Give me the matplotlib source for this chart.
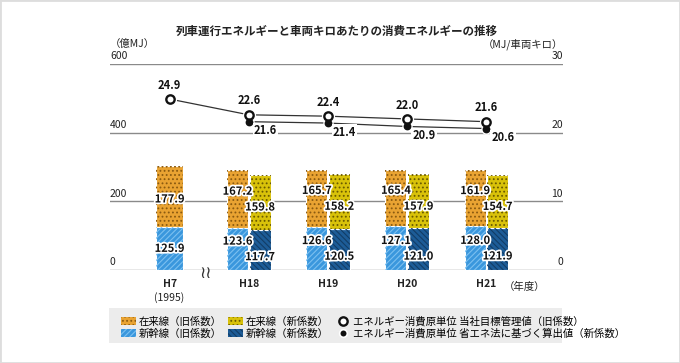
import matplotlib
matplotlib.use('Agg')
import matplotlib.pyplot as plt
import matplotlib.patheffects as pe
from matplotlib.patches import Patch, Rectangle
from matplotlib.lines import Line2D
import numpy as np

plt.rcParams['font.family'] = ['Noto Sans CJK JP', 'DejaVu Sans']
plt.rcParams['hatch.linewidth'] = 0.8

# データ（億MJ / MJ/車両キロ）
years = ['H7', 'H18', 'H19', 'H20', 'H21']
shinkansen_old = [125.9, 123.6, 126.6, 127.1, 128.0]
zairai_old = [177.9, 167.2, 165.7, 165.4, 161.9]
shinkansen_new = [117.7, 120.5, 121.0, 121.9]   # H18〜H21
zairai_new = [159.8, 158.2, 157.9, 154.7]
unit_old = [24.9, 22.6, 22.4, 22.0, 21.6]
unit_new = [21.6, 21.4, 20.9, 20.6]             # H18〜H21

c_orange = '#E9A332'
c_yellow = '#D9C20A'
c_blue = '#3A97DD'
c_dblue = '#1D5C97'

W, H = 680, 363
fig = plt.figure(figsize=(W / 100, H / 100), dpi=100)

# 枠線
fig.patches.append(Rectangle((0, 0), 1, 1, transform=fig.transFigure, fill=False,
                             edgecolor='#dddddd', linewidth=2))

ax_l, ax_r, ax_b, ax_t = 110, 563, 270, 64
ax = fig.add_axes([ax_l / W, 1 - ax_b / H, (ax_r - ax_l) / W, (ax_b - ax_t) / H])
ax.set_xlim(-0.752, 4.967)
ax.set_ylim(0, 600)
ax.axis('off')

# 目盛り線
for v in [0, 200, 400, 600]:
    ax.axhline(v, color='#8a8a8a', lw=1, zorder=0)
    ax.text(-0.752, v + 8, str(v), fontsize=7.5, ha='left', va='bottom', color='#222')
for v, r in zip([0, 200, 400, 600], [0, 10, 20, 30]):
    ax.text(4.967, v + 8, str(r), fontsize=7.5, ha='right', va='bottom', color='#222')

x = np.arange(len(years))
stroke = [pe.withStroke(linewidth=2.5, foreground='white')]


def seg(xc, bottom, height, width, color, hatch, hcolor):
    ax.bar(xc, height, width, bottom=bottom, color=color, edgecolor='white', lw=0.8, zorder=2)
    ax.bar(xc, height, width, bottom=bottom, color='none', edgecolor=hcolor, hatch=hatch,
           lw=0, zorder=3)


def vlabel(xc, y, val, dy):
    ax.annotate(f'{val:.1f}', (xc, y), xytext=(0, dy), textcoords='offset points',
                ha='center', va='center', fontsize=8, fontweight='bold', color='#111',
                path_effects=stroke, zorder=6)


# H7
seg(x[0], 0, shinkansen_old[0], 0.34, c_blue, '//////', '#7cc0f0')
seg(x[0], shinkansen_old[0], zairai_old[0], 0.34, c_orange, '....', '#8a5a10')
vlabel(x[0], shinkansen_old[0] / 2, shinkansen_old[0], 0)
vlabel(x[0], shinkansen_old[0] + zairai_old[0] / 2, zairai_old[0], -2)

off = 0.142
bw = 0.265
for i in range(1, len(years)):
    xo = x[i] - off
    xn = x[i] + off
    so, zo = shinkansen_old[i], zairai_old[i]
    sn, zn = shinkansen_new[i - 1], zairai_new[i - 1]
    seg(xo, 0, so, bw, c_blue, '//////', '#7cc0f0')
    seg(xo, so, zo, bw, c_orange, '....', '#8a5a10')
    seg(xn, 0, sn, bw, c_dblue, '\\\\\\\\\\\\', '#123d66')
    seg(xn, sn, zn, bw, c_yellow, '....', '#6a5a00')
    vlabel(xo, so / 2, so, 5.5)
    vlabel(xo, so + zo / 2, zo, 5.5)
    vlabel(xn, sn / 2, sn, -5)
    vlabel(xn, sn + zn / 2, zn, -3.5)

# 原単位（右軸）
ax2 = ax.twinx()
ax2.set_ylim(0, 30)
ax2.axis('off')
ax2.plot(x, unit_old, color='#333', lw=0.9, zorder=4)
ax2.plot(x[1:], unit_new, color='#333', lw=0.9, zorder=4)
ax2.plot(x, unit_old, 'o', ms=8.5, color='white', zorder=5)
ax2.plot(x, unit_old, 'o', ms=6, mfc='white', mec='#111', mew=1.7, zorder=6)
ax2.plot(x[1:], unit_new, 'o', ms=6.5, color='white', zorder=5)
ax2.plot(x[1:], unit_new, 'o', ms=4.6, color='#111', zorder=6)
for xi, v in zip(x, unit_old):
    ax2.annotate(f'{v:.1f}', (xi, v), xytext=(0, 10), textcoords='offset points',
                 ha='center', va='center', fontsize=8, fontweight='bold', color='#111', zorder=7)
for xi, v in zip(x[1:], unit_new):
    ax2.annotate(f'{v:.1f}', (xi, v), xytext=(12, -6.5), textcoords='offset points',
                 ha='center', va='center', fontsize=8, fontweight='bold', color='#111', zorder=7,
                 bbox=dict(boxstyle='square,pad=0.1', fc='white', ec='none'))

# 横軸ラベル
for xi, lab in zip(x, years):
    ax.annotate(lab, (xi, 0), xytext=(0, -10), textcoords='offset points',
                ha='center', va='center', fontsize=7.5, fontweight='bold', color='#222')
ax.annotate('(1995)', (x[0], 0), xytext=(0, -20), textcoords='offset points',
            ha='center', va='center', fontsize=7.5, color='#222')
ax.annotate('（年度）', (4.967, 0), xytext=(-28, -12.5), textcoords='offset points',
            ha='center', va='center', fontsize=7.5, color='#222')
ax.annotate('≀≀', (0.45, 0), xytext=(0, -2), textcoords='offset points',
            ha='center', va='center', fontsize=12, color='#333', family='DejaVu Sans')

# タイトルと単位
fig.text(337 / W, 1 - 31 / H, '列車運行エネルギーと車両キロあたりの消費エネルギーの推移',
         ha='center', va='center', fontsize=8.3, fontweight='bold', color='#222')
fig.text(ax_l / W, 1 - 44 / H, '（億MJ）', ha='left', va='center', fontsize=7.5, color='#222')
fig.text(ax_r / W, 1 - 44 / H, '（MJ/車両キロ）', ha='right', va='center', fontsize=7.5, color='#222')

# 凡例
handles = [
    Patch(facecolor=c_orange, edgecolor='#8a5a10', hatch='....', lw=0),
    Patch(facecolor=c_blue, edgecolor='#7cc0f0', hatch='//////', lw=0),
    Patch(facecolor=c_yellow, edgecolor='#6a5a00', hatch='....', lw=0),
    Patch(facecolor=c_dblue, edgecolor='#123d66', hatch='\\\\\\\\\\\\', lw=0),
    Line2D([], [], ls='none', marker='o', ms=6, mfc='white', mec='#111', mew=1.7),
    Line2D([], [], ls='none', marker='o', ms=5.5, color='#111', mec='white', mew=1.2),
]
labels = ['在来線（旧係数）', '新幹線（旧係数）', '在来線（新係数）', '新幹線（新係数）',
          'エネルギー消費原単位 当社目標管理値（旧係数）',
          'エネルギー消費原単位 省エネ法に基づく算出値（新係数）']
fig.patches.append(Rectangle((109 / W, 1 - 343 / H), 453 / W, 35 / H, transform=fig.transFigure,
                             facecolor='#ececec', edgecolor='none', zorder=0))
fig.legend(handles, labels, ncol=3, loc='upper left', bbox_to_anchor=(114 / W, 1 - 309 / H),
           frameon=False, fontsize=7.5, handlelength=1.4, handleheight=0.9,
           handletextpad=0.3, columnspacing=0.6, labelspacing=0.15, borderpad=0.2)

fig.savefig('out.png', dpi=100)
